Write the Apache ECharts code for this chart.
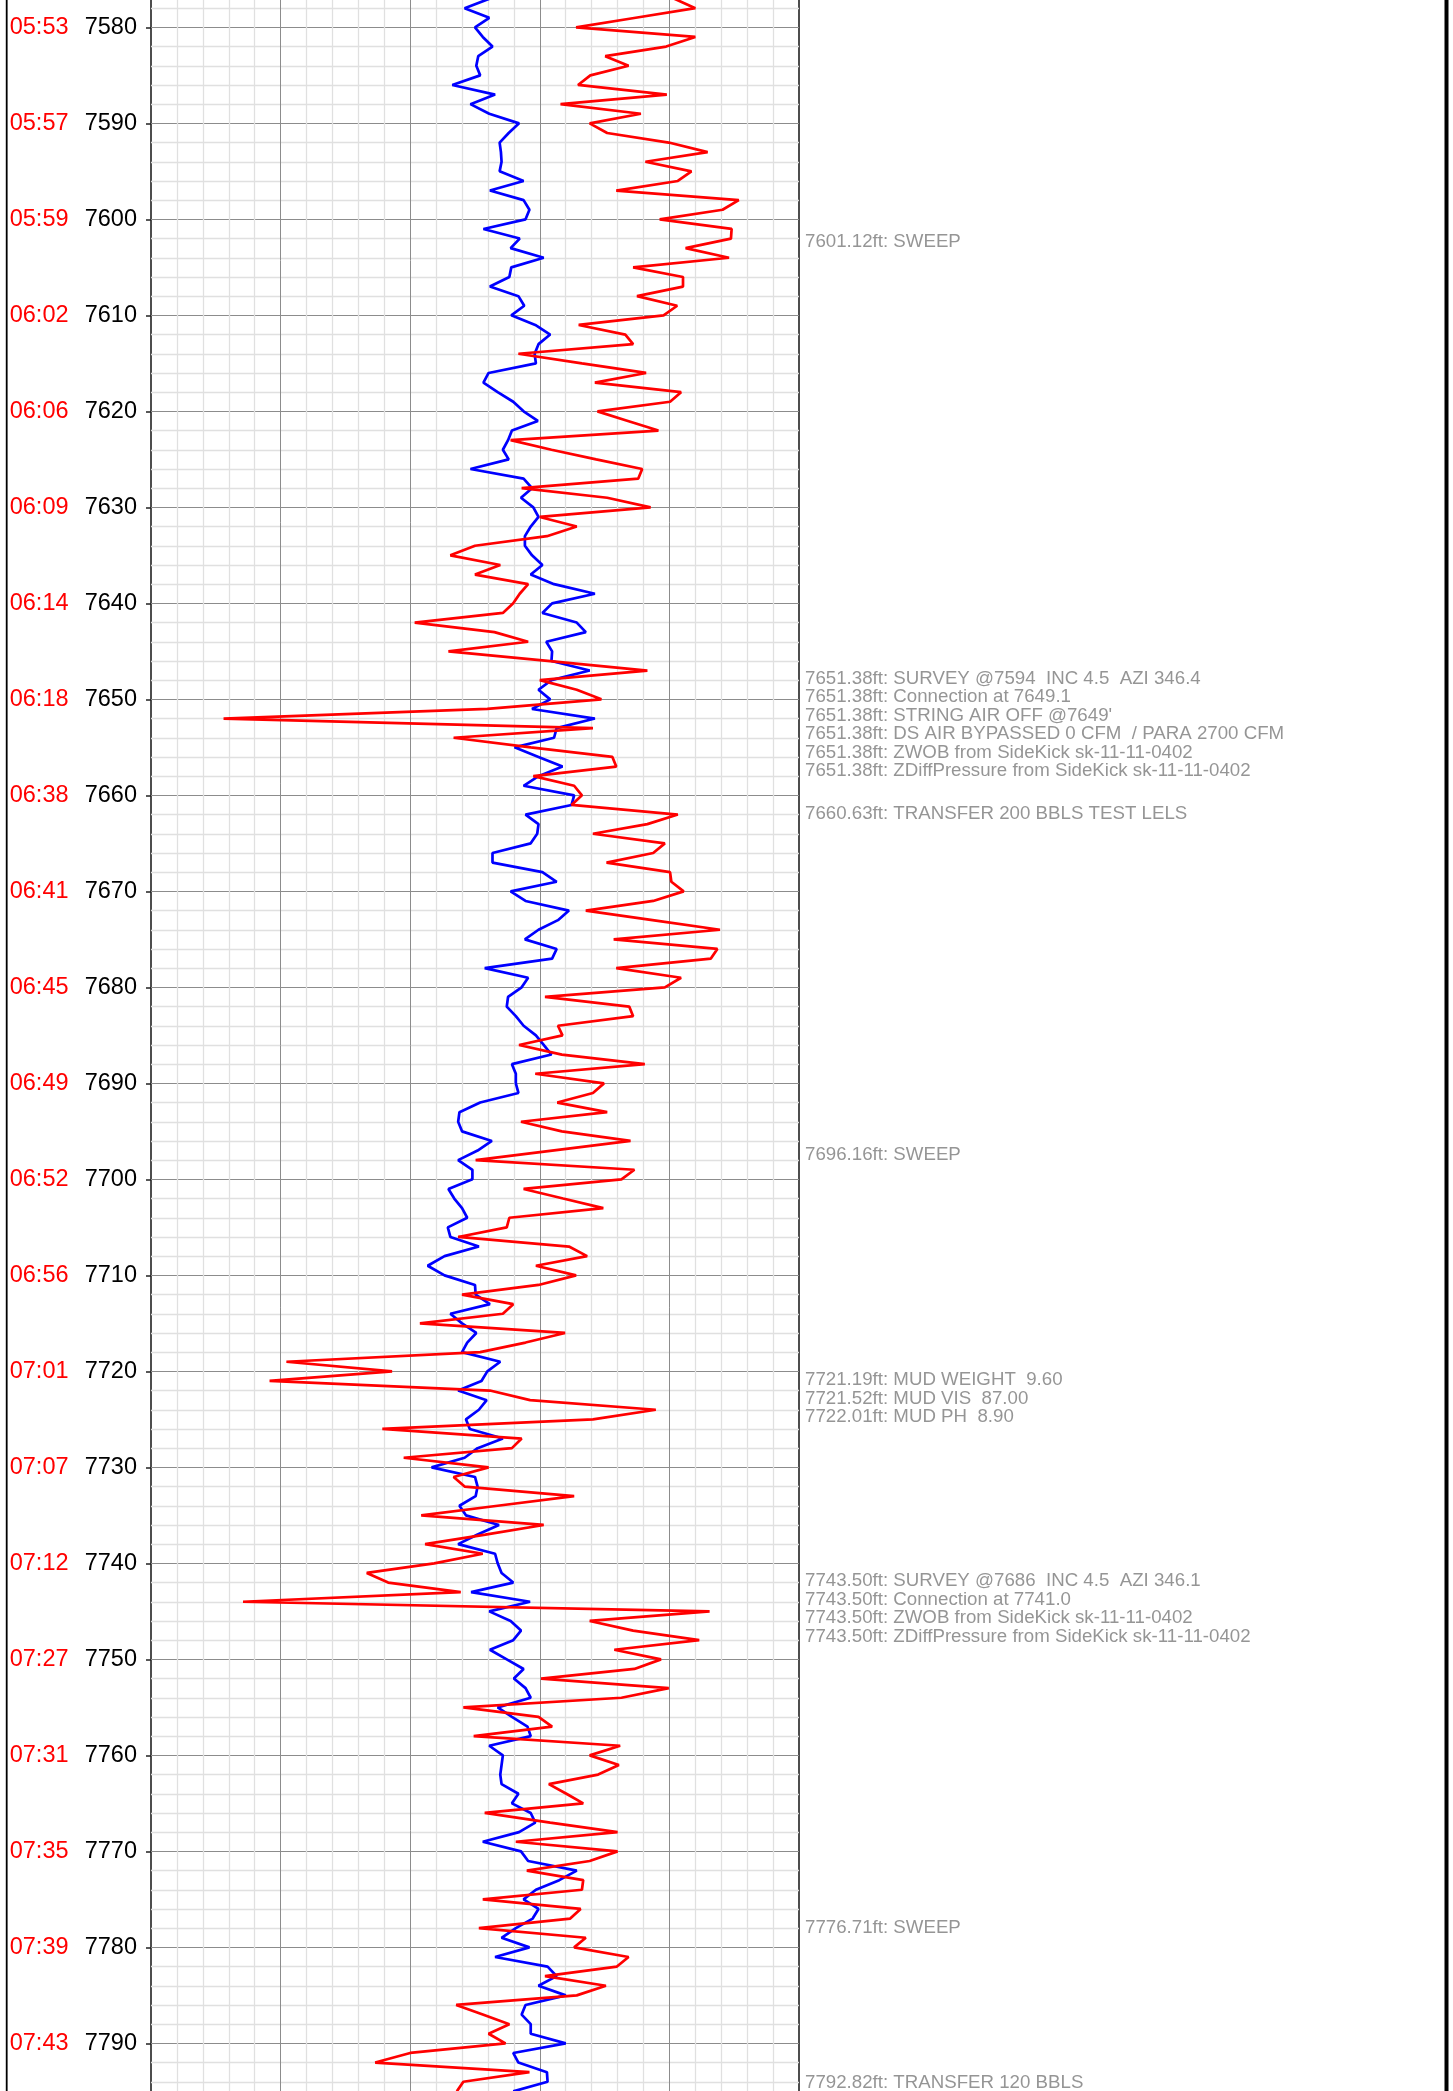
<!DOCTYPE html>
<html>
<head>
<meta charset="utf-8">
<script src="https://cdn.jsdelivr.net/npm/echarts@6/dist/echarts.min.js"></script>
<style>
html, body { margin: 0; padding: 0; background: #fff; }
#main { width: 1453px; height: 2091px; }
</style>
</head>
<body>
<div id="main"></div>
<script>
// depth samples (ft), one per foot
var depths = [
  7577, 7578, 7579, 7580, 7581, 7582, 7583, 7584, 7585, 7586,
  7587, 7588, 7589, 7590, 7591, 7592, 7593, 7594, 7595, 7596,
  7597, 7598, 7599, 7600, 7601, 7602, 7603, 7604, 7605, 7606,
  7607, 7608, 7609, 7610, 7611, 7612, 7613, 7614, 7615, 7616,
  7617, 7618, 7619, 7620, 7621, 7622, 7623, 7624, 7625, 7626,
  7627, 7628, 7629, 7630, 7631, 7632, 7633, 7634, 7635, 7636,
  7637, 7638, 7639, 7640, 7641, 7642, 7643, 7644, 7645, 7646,
  7647, 7648, 7649, 7650, 7651, 7652, 7653, 7654, 7655, 7656,
  7657, 7658, 7659, 7660, 7661, 7662, 7663, 7664, 7665, 7666,
  7667, 7668, 7669, 7670, 7671, 7672, 7673, 7674, 7675, 7676,
  7677, 7678, 7679, 7680, 7681, 7682, 7683, 7684, 7685, 7686,
  7687, 7688, 7689, 7690, 7691, 7692, 7693, 7694, 7695, 7696,
  7697, 7698, 7699, 7700, 7701, 7702, 7703, 7704, 7705, 7706,
  7707, 7708, 7709, 7710, 7711, 7712, 7713, 7714, 7715, 7716,
  7717, 7718, 7719, 7720, 7721, 7722, 7723, 7724, 7725, 7726,
  7727, 7728, 7729, 7730, 7731, 7732, 7733, 7734, 7735, 7736,
  7737, 7738, 7739, 7740, 7741, 7742, 7743, 7744, 7745, 7746,
  7747, 7748, 7749, 7750, 7751, 7752, 7753, 7754, 7755, 7756,
  7757, 7758, 7759, 7760, 7761, 7762, 7763, 7764, 7765, 7766,
  7767, 7768, 7769, 7770, 7771, 7772, 7773, 7774, 7775, 7776,
  7777, 7778, 7779, 7780, 7781, 7782, 7783, 7784, 7785, 7786,
  7787, 7788, 7789, 7790, 7791, 7792, 7793, 7794, 7795
];

var blueVals = [
  52.3, 48.4, 52.2, 50.0, 51.2, 52.7, 50.5, 50.2, 50.8, 46.5,
  53.1, 49.3, 52.2, 56.8, 55.2, 53.8, 54.0, 54.1, 53.8, 57.5,
  52.3, 57.5, 58.4, 57.8, 51.3, 56.9, 55.5, 60.6, 55.6, 55.3,
  52.3, 56.7, 57.6, 55.6, 59.3, 61.6, 59.8, 59.2, 59.4, 52.1,
  51.3, 53.5, 55.9, 57.5, 59.7, 55.7, 55.1, 54.3, 55.2, 49.3,
  57.5, 58.8, 57.1, 59.0, 59.8, 58.6, 57.7, 57.7, 58.8, 60.4,
  58.6, 62.2, 68.5, 61.9, 60.4, 65.7, 67.1, 61.0, 61.9, 61.8,
  67.7, 61.8, 59.8, 61.6, 58.8, 68.5, 62.6, 62.2, 56.1, 59.8,
  63.5, 59.8, 57.5, 65.3, 64.9, 57.8, 59.8, 59.6, 58.6, 52.7,
  52.7, 60.4, 62.6, 55.5, 57.8, 64.5, 62.8, 59.8, 57.7, 62.6,
  61.9, 51.5, 58.2, 57.2, 55.1, 54.9, 56.3, 57.5, 59.4, 60.6,
  61.8, 55.7, 56.3, 56.3, 56.7, 50.8, 47.6, 47.4, 48.0, 52.6,
  50.4, 47.4, 49.6, 49.6, 45.9, 46.8, 48.0, 48.8, 45.8, 46.2,
  50.6, 45.3, 42.7, 45.3, 50.0, 50.1, 52.3, 46.2, 48.0, 50.2,
  48.8, 48.0, 53.9, 51.9, 51.0, 47.4, 51.8, 50.6, 48.6, 49.2,
  54.3, 50.4, 48.4, 43.3, 50.0, 50.4, 50.1, 47.6, 48.6, 53.7,
  50.4, 47.4, 53.1, 53.5, 54.1, 55.9, 49.4, 58.5, 52.2, 55.5,
  57.1, 55.9, 52.3, 54.9, 57.5, 56.0, 57.8, 58.6, 53.5, 55.7,
  58.1, 58.6, 52.2, 54.3, 54.1, 53.9, 54.1, 56.7, 55.7, 58.6,
  59.3, 56.8, 51.2, 57.1, 58.2, 65.7, 63.0, 59.4, 57.5, 59.8,
  58.9, 56.3, 54.1, 58.4, 53.1, 61.2, 62.6, 59.8, 64.0, 57.8,
  57.2, 58.6, 58.6, 64.0, 55.9, 56.7, 61.1, 61.2, 55.9
];

var redVals = [
  80.7, 84.0, 74.8, 65.6, 84.0, 79.5, 70.1, 73.7, 67.8, 65.9,
  79.6, 63.2, 75.6, 67.7, 70.4, 79.9, 85.9, 76.3, 83.4, 81.3,
  71.8, 90.7, 88.2, 78.5, 89.6, 89.5, 82.5, 89.2, 74.4, 82.1,
  82.1, 75.0, 81.2, 79.1, 66.0, 73.2, 74.4, 56.7, 66.5, 76.4,
  68.5, 81.8, 80.1, 68.9, 73.6, 78.3, 55.5, 61.8, 68.7, 75.8,
  75.2, 57.2, 70.4, 77.1, 60.0, 65.7, 61.1, 50.0, 46.2, 53.9,
  50.0, 58.2, 56.9, 55.9, 54.3, 40.7, 53.0, 58.2, 45.9, 61.2,
  76.6, 60.0, 65.7, 69.5, 51.9, 11.2, 68.2, 46.7, 58.6, 71.2,
  71.8, 59.0, 65.3, 66.5, 64.9, 81.3, 76.6, 68.2, 79.3, 77.5,
  70.3, 80.1, 80.3, 82.2, 77.5, 67.1, 77.4, 87.8, 71.4, 87.4,
  86.4, 71.8, 81.8, 79.3, 60.8, 73.8, 74.4, 62.8, 63.5, 56.8,
  63.4, 76.2, 59.3, 69.9, 68.2, 62.7, 70.4, 57.1, 63.4, 74.0,
  61.9, 50.1, 74.6, 72.6, 57.5, 63.6, 69.8, 55.3, 54.9, 47.4,
  64.5, 67.3, 59.4, 65.6, 59.8, 48.0, 55.9, 54.3, 41.5, 63.9,
  57.8, 50.8, 20.9, 37.2, 18.3, 52.3, 58.5, 77.9, 68.2, 35.7,
  57.2, 55.7, 39.0, 52.1, 46.7, 48.4, 65.3, 53.5, 41.7, 60.6,
  51.6, 42.3, 51.2, 43.7, 33.3, 36.6, 47.8, 14.2, 86.2, 67.7,
  74.4, 84.6, 71.5, 78.7, 74.6, 60.2, 79.9, 72.6, 48.2, 59.8,
  61.9, 49.8, 72.4, 67.7, 72.2, 69.0, 61.4, 64.1, 66.7, 51.5,
  61.6, 72.0, 56.3, 72.0, 67.7, 58.0, 66.7, 66.5, 51.2, 66.3,
  64.7, 50.6, 67.1, 65.3, 73.7, 71.9, 60.8, 70.2, 65.7, 47.1,
  51.2, 55.3, 52.1, 54.7, 40.0, 34.6, 58.4, 48.2, 47.2
];

// depth tick labels and the clock time at each
var tickDepths = [7580, 7590, 7600, 7610, 7620, 7630, 7640, 7650, 7660, 7670, 7680,
                  7690, 7700, 7710, 7720, 7730, 7740, 7750, 7760, 7770, 7780, 7790];
var tickTimes = ['05:53', '05:57', '05:59', '06:02', '06:06', '06:09', '06:14', '06:18', '06:38', '06:41', '06:45',
                 '06:49', '06:52', '06:56', '07:01', '07:07', '07:12', '07:27', '07:31', '07:35', '07:39', '07:43'];

// remarks
var noteDepths = [7601.12, 7651.38, 7651.38, 7651.38, 7651.38, 7651.38, 7651.38, 7660.63, 7696.16,
                  7721.19, 7721.52, 7722.01, 7743.50, 7743.50, 7743.50, 7743.50, 7776.71, 7792.82];
var noteTexts = [
  'SWEEP',
  'SURVEY @7594  INC 4.5  AZI 346.4',
  'Connection at 7649.1',
  "STRING AIR OFF @7649'",
  'DS AIR BYPASSED 0 CFM  / PARA 2700 CFM',
  'ZWOB from SideKick sk-11-11-0402',
  'ZDiffPressure from SideKick sk-11-11-0402',
  'TRANSFER 200 BBLS TEST LELS',
  'SWEEP',
  'MUD WEIGHT  9.60',
  'MUD VIS  87.00',
  'MUD PH  8.90',
  'SURVEY @7686  INC 4.5  AZI 346.1',
  'Connection at 7741.0',
  'ZWOB from SideKick sk-11-11-0402',
  'ZDiffPressure from SideKick sk-11-11-0402',
  'SWEEP',
  'TRANSFER 120 BBLS'
];

var FONT = 'Liberation Sans, Arial, Helvetica, sans-serif';

// stack remarks that sit close together into one block
var groups = [];
for (var i = 0; i < noteDepths.length; i++) {
    var g = groups[groups.length - 1];
    var line = noteDepths[i].toFixed(2) + 'ft: ' + noteTexts[i];
    if (g && noteDepths[i] - g.first < 1.5) {
        g.lines.push(line);
        g.sum += noteDepths[i];
    } else {
        groups.push({ first: noteDepths[i], sum: noteDepths[i], lines: [line] });
    }
}
var noteData = groups.map(function (g) {
    return [0, g.sum / g.lines.length, g.lines.join('\n')];
});

var blueData = depths.map(function (d, i) { return [blueVals[i], d]; });
var redData = depths.map(function (d, i) { return [redVals[i], d]; });

var mychart = echarts.init(document.getElementById('main'));
var option = {
    animation: false,
    backgroundColor: '#fff',
    grid: [
        { left: 151, width: 648, top: -68.64, height: 2208, show: true,
          borderColor: '#4d4d4d', borderWidth: 2, containLabel: false, outerBoundsMode: 'none' },
        { left: 799, width: 645, top: -68.64, height: 2208, show: false, outerBoundsMode: 'none' }
    ],
    xAxis: [
        {
            gridIndex: 0, type: 'value', min: 0, max: 100, interval: 20,
            axisLine: { show: false }, axisTick: { show: false }, axisLabel: { show: false },
            splitLine: { show: true, showMinLine: false, showMaxLine: false,
                         lineStyle: { color: '#8c8c8c', width: 1 } },
            minorTick: { show: false, splitNumber: 5 },
            minorSplitLine: { show: true, lineStyle: { color: '#e0e0e0', width: 1.3 } }
        },
        {
            gridIndex: 1, type: 'value', min: 0, max: 1, show: false
        }
    ],
    yAxis: [
        {
            gridIndex: 0, type: 'value', inverse: true, min: 7570, max: 7800, interval: 10,
            axisLine: { show: false },
            axisTick: { show: true, length: 5, lineStyle: { color: '#222', width: 1.5 } },
            axisLabel: {
                margin: 14,
                formatter: function (v) {
                    var k = tickDepths.indexOf(v);
                    if (k < 0) return '';
                    return '{t|' + tickTimes[k] + '}{d|' + v + '}';
                },
                rich: {
                    t: { color: '#f00', fontSize: 23.5, fontFamily: FONT, width: 75, align: 'left' },
                    d: { color: '#000', fontSize: 23.5, fontFamily: FONT }
                }
            },
            splitLine: { show: true, lineStyle: { color: '#8c8c8c', width: 1 } },
            minorTick: { show: false, splitNumber: 5 },
            minorSplitLine: { show: true, lineStyle: { color: '#e0e0e0', width: 1.3 } }
        },
        {
            gridIndex: 1, type: 'value', inverse: true, min: 7570, max: 7800, show: false
        }
    ],
    graphic: [
        { type: 'line', shape: { x1: 6.7, y1: 0, x2: 6.7, y2: 2091 },
          style: { stroke: '#000', lineWidth: 1.8 } },
        { type: 'line', shape: { x1: 1446.5, y1: 0, x2: 1446.5, y2: 2091 },
          style: { stroke: '#000', lineWidth: 4 } }
    ],
    series: [
        {
            name: 'blue', type: 'line', xAxisIndex: 0, yAxisIndex: 0,
            data: blueData, showSymbol: false, symbol: 'none',
            lineStyle: { color: '#0000ff', width: 2.7 }
        },
        {
            name: 'red', type: 'line', xAxisIndex: 0, yAxisIndex: 0,
            data: redData, showSymbol: false, symbol: 'none',
            lineStyle: { color: '#ff0000', width: 2.7 }
        },
        {
            name: 'notes', type: 'scatter', xAxisIndex: 1, yAxisIndex: 1,
            data: noteData, symbolSize: 0, silent: true,
            label: {
                show: true, position: 'right', distance: 6, offset: [0, 12],
                color: '#7a7a7a', fontSize: 18.7, lineHeight: 18.5, fontFamily: FONT,
                formatter: function (p) { return p.data[2]; }
            }
        }
    ]
};
mychart.setOption(option);
</script>
</body>
</html>
